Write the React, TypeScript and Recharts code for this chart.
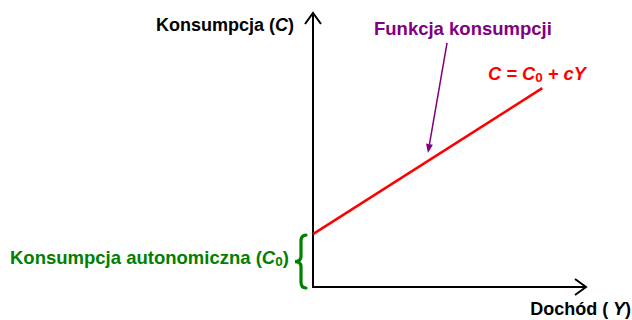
import React from 'react';
import { LineChart, Line, XAxis, YAxis, ReferenceLine, Customized } from 'recharts';

// Data (domain units 0..100 on both axes)
const income = [0, 84];
const consumption = [19.3, 72.6];
const autonomousConsumption = consumption[0];
const annotationFrom = { x: 49.1, y: 89.1 };
const annotationTo = { x: 42.1, y: 48.9 };

const yAxisTitle = 'Konsumpcja (';
const yAxisSymbol = 'C';
const xAxisTitle = 'Dochód (';
const xAxisSymbol = 'Y';
const curveTitle = 'Funkcja konsumpcji';
const autonomousTitle = 'Konsumpcja autonomiczna (';

const data = income.map((v, i) => ({ income: v, consumption: consumption[i] }));

const FONT = '"Liberation Sans", Arial, sans-serif';
const RED = '#ff0000';
const GREEN = '#008000';
const PURPLE = '#800080';

const UpAxis = (p: any) => {
  const { x1, y1, x2, y2 } = p;
  const tipY = Math.min(y1, y2);
  const baseY = Math.max(y1, y2);
  return (
    <g>
      <line x1={x1} y1={baseY + 1} x2={x2} y2={tipY} stroke="#000" strokeWidth={2} />
      <polyline points={`${x1 - 8},${tipY + 11} ${x1},${tipY} ${x1 + 8},${tipY + 11}`} fill="none" stroke="#000" strokeWidth={2} />
    </g>
  );
};

const RightAxis = (p: any) => {
  const { x1, y1, x2 } = p;
  const tipX = Math.max(x1, x2);
  const baseX = Math.min(x1, x2);
  return (
    <g>
      <line x1={baseX - 1} y1={y1} x2={tipX} y2={y1} stroke="#000" strokeWidth={2} />
      <polyline points={`${tipX - 11},${y1 - 8} ${tipX},${y1} ${tipX - 11},${y1 + 8}`} fill="none" stroke="#000" strokeWidth={2} />
    </g>
  );
};

const Brace = (p: any) => {
  const { x1, y1, y2 } = p;
  const yt = Math.min(y1, y2) + 1;
  const yb = Math.max(y1, y2) + 1;
  const ym = (yt + yb) / 2;
  const xr = x1 - 7;
  const xm = x1 - 12;
  const xl = x1 - 18;
  const d = `M ${xr} ${yt} Q ${xm} ${yt} ${xm} ${yt + 6} L ${xm} ${ym - 5} Q ${xm} ${ym} ${xl} ${ym} Q ${xm} ${ym} ${xm} ${ym + 5} L ${xm} ${yb - 6} Q ${xm} ${yb} ${xr} ${yb}`;
  return <path d={d} fill="none" stroke={GREEN} strokeWidth={3.2} strokeLinecap="round" />;
};

const Pointer = (p: any) => {
  const { x1, y1, x2, y2 } = p;
  const dx = x2 - x1;
  const dy = y2 - y1;
  const len = Math.sqrt(dx * dx + dy * dy);
  const ux = dx / len;
  const uy = dy / len;
  const hl = 9;
  const hw = 3.5;
  const bx = x2 - ux * hl;
  const by = y2 - uy * hl;
  return (
    <g>
      <line x1={x1} y1={y1} x2={bx} y2={by} stroke={PURPLE} strokeWidth={1.5} />
      <polygon
        points={`${x2},${y2} ${bx - uy * hw},${by + ux * hw} ${bx + uy * hw},${by - ux * hw}`}
        fill={PURPLE}
      />
    </g>
  );
};

const Texts = () => (
  <g fontFamily={FONT} fontWeight="bold" fontSize={18}>
    <text x={156} y={31} fill="#000">
      {yAxisTitle}
      <tspan fontStyle="italic">{yAxisSymbol}</tspan>)
    </text>
    <text x={631} y={315} fill="#000" textAnchor="end">
      {xAxisTitle}
      <tspan fontStyle="italic"> {xAxisSymbol}</tspan>)
    </text>
    <text x={374} y={35} fill={PURPLE} fontSize={18.5}>{curveTitle}</text>
    <text x={488} y={80} fill={RED} fontStyle="italic" fontSize={18.3}>
      C = C<tspan fontSize={13.5} dy={2} fontStyle="normal">0</tspan>
      <tspan dy={-2}> + cY</tspan>
    </text>
    <text x={10} y={264} fill={GREEN} fontSize={18.5}>
      {autonomousTitle}
      <tspan fontStyle="italic">C</tspan>
      <tspan fontSize={13.5} dy={2}>0</tspan>
      <tspan dy={-2}>)</tspan>
    </text>
  </g>
);

export default function App() {
  return (
    <div style={{ position: 'absolute', left: 0, top: 0, width: 632, height: 320, background: '#fff' }}>
      <LineChart width={632} height={320} data={data} margin={{ top: 13, right: 46, bottom: 33, left: 313 }}>
        <XAxis type="number" dataKey="income" domain={[0, 100]} hide />
        <YAxis type="number" domain={[0, 100]} hide />
        <ReferenceLine segment={[{ x: 0, y: 0 }, { x: 0, y: 100 }]} shape={UpAxis} />
        <ReferenceLine segment={[{ x: 0, y: 0 }, { x: 100, y: 0 }]} shape={RightAxis} />
        <ReferenceLine segment={[{ x: 0, y: 0 }, { x: 0, y: autonomousConsumption }]} shape={Brace} />
        <Line dataKey="consumption" stroke={RED} strokeWidth={2.5} dot={false} isAnimationActive={false} />
        <ReferenceLine segment={[annotationFrom, annotationTo]} shape={Pointer} />
        <Customized component={Texts} />
      </LineChart>
    </div>
  );
}
